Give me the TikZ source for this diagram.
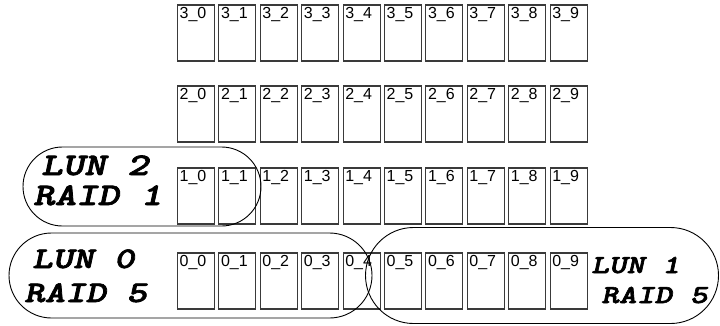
\documentclass[tikz,border=0pt]{standalone}
\usepackage{fontspec}
\usepackage{graphicx}
\setmainfont{Liberation Sans}
\newfontfamily\lunfont[FakeBold=2]{lmmonolt10-boldoblique.otf}
\definecolor{diskgray}{HTML}{3A3A3A}
\newcommand{\lunlbl}[1]{\scalebox{1.3}[1]{\lunfont #1}}

\begin{document}
\begin{tikzpicture}[
    x=1pt, y=-1pt,
    disk/.style={rectangle, draw=diskgray, line width=1.1pt,
                 minimum width=37pt, minimum height=56pt, inner sep=0pt},
    disklbl/.style={anchor=north west, inner sep=2.5pt, font=\fontsize{16}{16}\selectfont},
    lun/.style={rectangle, draw=black, line width=0.9pt, inner sep=0pt},
    luntext/.style={anchor=base west, inner sep=0pt, font=\fontsize{#1}{#1}\selectfont},
]
\useasboundingbox (0,0) rectangle (720,325);

% Disk rows
\foreach \r/\y in {3/33, 2/114, 1/196, 0/281} {
  \foreach \i in {0,...,9} {
    \node[disk, label={[disklbl]north west:\r\_\i}] (d\r\i) at (196+41.4*\i, \y) {};
  }
}

% LUN 2, RAID 1
\node[lun, minimum width=238pt, minimum height=79pt, rounded corners=39.5pt]
    (lun2) at (142, 186.5) {};
\node[luntext=31.5] (lun2a) at (41, 175) {\lunlbl{LUN 2}};
\node[luntext=31.5] (lun2b) at (33, 205) {\lunlbl{RAID 1}};

% LUN 0, RAID 5
\node[lun, minimum width=363pt, minimum height=85pt, rounded corners=42.5pt]
    (lun0) at (190.5, 275.5) {};
\node[luntext=30] (lun0a) at (32, 268) {\lunlbl{LUN 0}};
\node[luntext=30] (lun0b) at (24, 302) {\lunlbl{RAID 5}};

% LUN 1, RAID 5
\node[lun, minimum width=353pt, minimum height=96pt, rounded corners=48pt]
    (lun1) at (542, 275.5) {};
\node[luntext=26] (lun1a) at (591, 273) {\lunlbl{LUN 1}};
\node[luntext=26] (lun1b) at (601, 303) {\lunlbl{RAID 5}};

\end{tikzpicture}
\end{document}
